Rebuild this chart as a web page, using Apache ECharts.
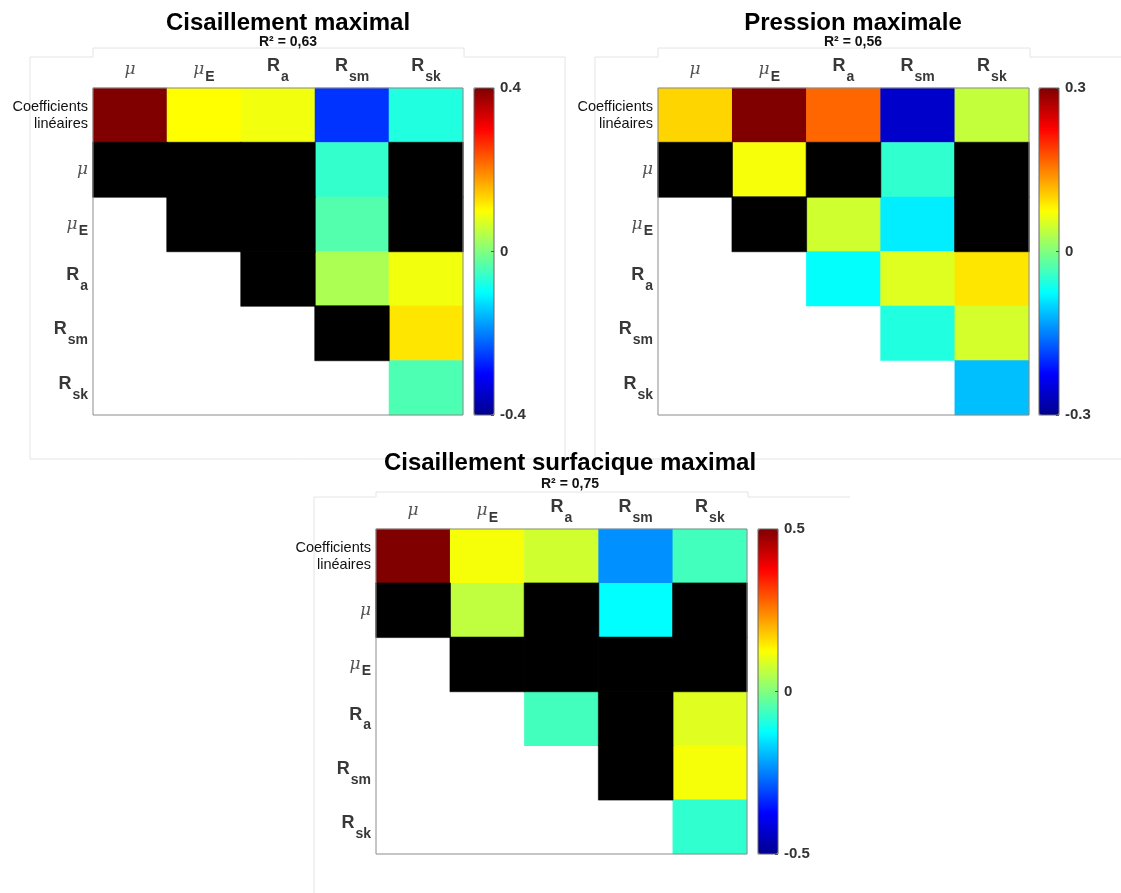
<!DOCTYPE html>
<html lang="fr">
<head>
<meta charset="utf-8">
<title>Coefficients linéaires</title>
<script src="https://cdn.jsdelivr.net/npm/echarts@6/dist/echarts.min.js"></script>
<style>
  html, body { margin: 0; padding: 0; background: #fff; }
  #chart { width: 1121px; height: 893px; }
</style>
</head>
<body>
<div id="chart"></div>
<script>
// colonnes / lignes des matrices
const colonnes = ['mu', 'muE', 'Ra', 'Rsm', 'Rsk'];
const lignes = ['coef', 'mu', 'muE', 'Ra', 'Rsm', 'Rsk'];
const NS = 'ns'; // case noire (non significatif), null = case vide

const cisaillementMax = [
  [0.40, 0.10, 0.09, -0.26, -0.075],
  [NS, NS, NS, -0.06, NS],
  [null, NS, NS, -0.035, NS],
  [null, null, NS, 0.035, 0.09],
  [null, null, null, NS, 0.12],
  [null, null, null, null, -0.04]
];
const pressionMax = [
  [0.10, 0.30, 0.165, -0.26, 0.04],
  [NS, 0.07, NS, -0.047, NS],
  [null, NS, 0.047, -0.085, NS],
  [null, null, -0.073, 0.056, 0.09],
  [null, null, null, -0.056, 0.05],
  [null, null, null, null, -0.113]
];
const cisaillementSurfMax = [
  [0.50, 0.117, 0.079, -0.234, -0.06],
  [NS, 0.0625, NS, -0.125, NS],
  [null, NS, NS, NS, NS],
  [null, null, -0.06, NS, 0.094],
  [null, null, null, NS, 0.117],
  [null, null, null, null, -0.078]
];
const titres = ['Cisaillement maximal', 'Pression maximale', 'Cisaillement surfacique maximal'];
const sousTitres = ['R² = 0,63', 'R² = 0,56', 'R² = 0,75'];
const bornes = [0.4, 0.3, 0.5];

const matrices = [cisaillementMax, pressionMax, cisaillementSurfMax];

const etiquettes = {
  coef: '{c|Coefficients}\n{c|linéaires}',
  mu: '{m|μ}',
  muE: '{m|μ}{s|E}',
  Ra: '{b|R}{s|a}',
  Rsm: '{b|R}{s|sm}',
  Rsk: '{b|R}{s|sk}'
};

const jet = ['#00008f', '#0000ff', '#0080ff', '#00ffff', '#80ff80', '#ffff00', '#ff8000', '#ff0000', '#800000'];

// placement des trois panneaux
const panneaux = [
  { left: 93, top: 88, width: 370, height: 327, cb: 474, tx: 288, ty: 11, sy: 35 },
  { left: 658, top: 88, width: 371, height: 327, cb: 1039, tx: 853, ty: 11, sy: 35 },
  { left: 376, top: 529, width: 371, height: 325, cb: 758, tx: 570, ty: 451, sy: 477 }
];

// indices : le décalage vient du padding des fragments
const rich = {
  b: { fontSize: 18, fontWeight: 'bold', color: '#383838', lineHeight: 18, padding: [0, 0, 8, 0], fontFamily: 'Liberation Sans' },
  s: { fontSize: 14, fontWeight: 'bold', color: '#383838', lineHeight: 14, padding: [14, 0, 0, 1], fontFamily: 'Liberation Sans' },
  m: { fontSize: 17, fontStyle: 'italic', color: '#555', lineHeight: 18, padding: [5, 0, 5, 0], fontFamily: 'DejaVu Serif' },
  c: { fontSize: 14.5, color: '#111', lineHeight: 17, fontFamily: 'Liberation Sans' }
};

const title = [], grid = [], xAxis = [], yAxis = [], series = [], visualMap = [];

panneaux.forEach(function (p, i) {
  title.push({
    text: titres[i], left: p.tx, top: p.ty, textAlign: 'center', padding: 0,
    textStyle: { fontSize: 24, fontWeight: 'bold', color: '#000', fontFamily: 'Liberation Sans' }
  });
  title.push({
    text: sousTitres[i], left: p.tx, top: p.sy, textAlign: 'center', padding: 0,
    textStyle: { fontSize: 14, fontWeight: 'bold', color: '#111', fontFamily: 'Liberation Sans' }
  });

  grid.push({
    left: p.left, top: p.top, width: p.width, height: p.height,
    show: true, z: 3, backgroundColor: 'rgba(0,0,0,0)', borderColor: '#8c8c8c', borderWidth: 1
  });
  xAxis.push({
    type: 'category', gridIndex: i, position: 'top', data: colonnes,
    axisLine: { show: false }, axisTick: { show: false }, splitLine: { show: false },
    axisLabel: { interval: 0, margin: 9, formatter: function (v) { return etiquettes[v]; }, rich: rich }
  });
  yAxis.push({
    type: 'category', gridIndex: i, inverse: true, data: lignes,
    axisLine: { show: false }, axisTick: { show: false }, splitLine: { show: false },
    axisLabel: { interval: 0, margin: 5, align: 'right', formatter: function (v) { return etiquettes[v]; }, rich: rich }
  });

  const valeurs = [], noires = [];
  matrices[i].forEach(function (ligne, r) {
    ligne.forEach(function (v, c) {
      if (v === NS) noires.push([c, r, 0]);
      else if (v !== null) valeurs.push([c, r, v]);
    });
  });
  series.push({
    type: 'heatmap', xAxisIndex: i, yAxisIndex: i, data: valeurs,
    emphasis: { disabled: true }
  });
  series.push({
    type: 'heatmap', xAxisIndex: i, yAxisIndex: i, data: noires,
    itemStyle: { color: '#000', borderColor: '#000', borderWidth: 0.6 }, emphasis: { disabled: true }
  });
  visualMap.push({
    type: 'continuous', seriesIndex: series.length - 2, dimension: 2,
    min: -bornes[i], max: bornes[i], calculable: false, hoverLink: false,
    left: p.cb, top: p.top, itemWidth: 20, itemHeight: p.height, padding: 0,
    inRange: { color: jet }, text: null
  });
});

// échelles des barres de couleur
panneaux.forEach(function (p, i) {
  const g = grid.length;
  grid.push({
    left: p.cb, top: p.top, width: 20, height: p.height,
    show: true, z: 6, backgroundColor: 'rgba(0,0,0,0)', borderColor: '#666', borderWidth: 1
  });
  xAxis.push({ type: 'category', gridIndex: g, show: false, data: [''] });
  yAxis.push({
    type: 'value', gridIndex: g, position: 'right', z: 7,
    min: -bornes[i], max: bornes[i], interval: bornes[i],
    axisLine: { show: false, onZero: false }, splitLine: { show: false },
    axisTick: { show: true, inside: true, length: 3, lineStyle: { color: '#555' } },
    axisLabel: {
      margin: 6, fontSize: 15, fontWeight: 'bold', color: '#333', fontFamily: 'Liberation Sans',
      formatter: function (v) { return v === 0 ? '0' : String(+v.toFixed(2)); }
    }
  });
});

// cadres gris clair autour des panneaux
const cadre = { stroke: '#e4e4e4', lineWidth: 1, fill: null };
const graphic = [
  { type: 'polyline', silent: true, shape: { points: [[30, 459], [30, 57], [93, 57], [93, 48], [464, 48], [464, 57], [565, 57], [565, 459], [30, 459]] }, style: cadre },
  { type: 'polyline', silent: true, shape: { points: [[595, 459], [595, 57], [658, 57], [658, 48], [1030, 48], [1030, 57], [1121, 57]] }, style: cadre },
  { type: 'polyline', silent: true, shape: { points: [[595, 459], [1121, 459]] }, style: cadre },
  { type: 'polyline', silent: true, shape: { points: [[314, 893], [314, 497], [376, 497], [376, 492], [748, 492], [748, 497], [850, 497]] }, style: cadre }
];

const myChart = echarts.init(document.getElementById('chart'));
myChart.setOption({
  backgroundColor: '#fff',
  animation: false,
  title: title,
  grid: grid,
  xAxis: xAxis,
  yAxis: yAxis,
  visualMap: visualMap,
  series: series,
  graphic: graphic
});
</script>
</body>
</html>
